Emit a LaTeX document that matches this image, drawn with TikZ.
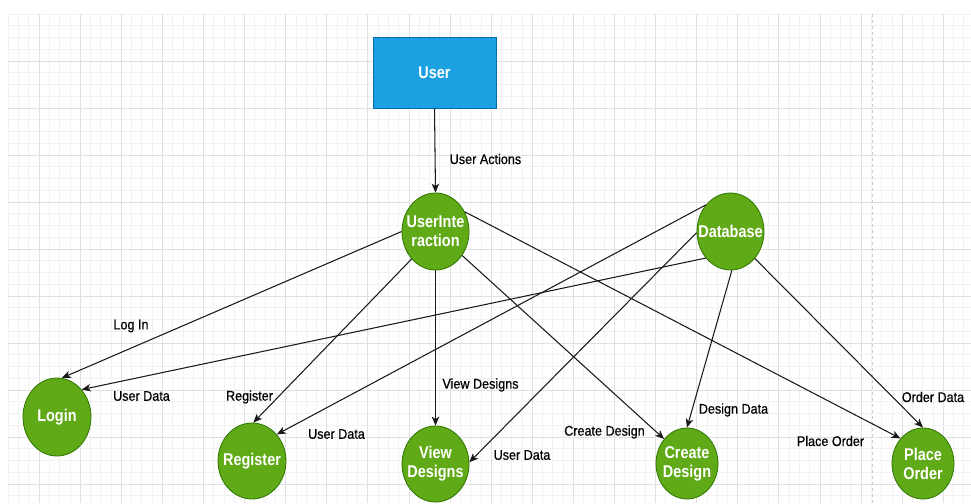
\documentclass[tikz,border=0pt]{standalone}
\usepackage{fontspec}
\setmainfont{Liberation Sans}
\newfontfamily\lblfont[FakeStretch=0.9,FakeBold=0.6]{Liberation Sans}
\newfontfamily\shapefont[FakeStretch=0.85]{Liberation Sans}
\usetikzlibrary{shapes.geometric,arrows.meta}
\definecolor{gridminor}{HTML}{F2F2F2}
\definecolor{gridmajor}{HTML}{E0E0E0}
\definecolor{userfill}{HTML}{1BA1E2}
\definecolor{userline}{HTML}{006EAF}
\definecolor{procfill}{HTML}{60A917}
\definecolor{procline}{HTML}{2D7600}
\definecolor{guide}{HTML}{CCCCCC}
\begin{document}
\begin{tikzpicture}[x=1pt,y=-1pt,
  actor/.style={rectangle, draw=userline, fill=userfill, line width=0.8pt,
    minimum width=123pt, minimum height=71pt, inner sep=0pt, text=white,
    font=\shapefont\fontsize{17}{19}\selectfont\bfseries},
  proc/.style={ellipse, draw=procline, fill=procfill, line width=0.8pt,
    inner sep=0pt},
  ptext/.style={inner sep=0pt, text=white, align=center,
    font=\shapefont\fontsize{17}{19}\selectfont\bfseries},
  lbl/.style={inner sep=0pt, text=black, font=\lblfont\fontsize{14}{16}\selectfont},
  flow/.style={draw=black!90, line width=1.05pt,
    -{Stealth[length=9pt,width=7.5pt,inset=2.5pt]}},
  minorline/.style={draw=gridminor, line width=0.7pt},
  majorline/.style={draw=gridmajor, line width=0.8pt}]

\useasboundingbox (0,0) rectangle (971,503);
\fill[white] (0,0) rectangle (971,503);

% background grid
\foreach \i in {0,...,93} {\draw[minorline] ({8.2+10.275*\i},14) -- ({8.2+10.275*\i},503);}
\foreach \j in {0,...,41} {\draw[minorline] (8.2,{14+11.75*\j}) -- (971,{14+11.75*\j});}
\foreach \i in {0,...,22} {\draw[majorline] ({39+41.1*\i},14) -- ({39+41.1*\i},503);}
\foreach \j in {1,...,10} {\draw[majorline] (8.2,{14+47*\j}) -- (971,{14+47*\j});}

% page break guide
\draw[guide, line width=0.8pt, dash pattern=on 3pt off 3pt] (872,14) -- (872,503);

% shapes
\node[actor] (user) at (434.5,72.5) {User};
\node[proc, minimum width=67pt, minimum height=77pt,
  label={[ptext]center:UserInte\\raction}] (ui) at (435.5,231.5) {};
\node[proc, minimum width=67pt, minimum height=77pt,
  label={[ptext]center:Database}] (db) at (730.5,231.5) {};
\node[proc, minimum width=68pt, minimum height=78pt,
  label={[ptext]center:Login}] (login) at (57,417) {};
\node[proc, minimum width=68pt, minimum height=76pt,
  label={[ptext]center:Register}] (reg) at (252,461) {};
\node[proc, minimum width=67pt, minimum height=76pt,
  label={[ptext]center:View\\Designs}] (view) at (435.5,464) {};
\node[proc, minimum width=62pt, minimum height=71pt,
  label={[ptext]center:Create\\Design}] (create) at (687,463.5) {};
\node[proc, minimum width=62pt, minimum height=71pt,
  label={[ptext]center:Place\\Order}] (place) at (923,463.5) {};

% connectors
\draw[flow] (user.south) -- (ui.north);
\draw[flow] (ui.180) -- (login.83);
\draw[flow] (db.227) -- (login.48);
\draw[flow] (ui.229) -- (reg.88);
\draw[flow] (db.133) -- (reg.47);
\draw[flow] (ui.south) -- (view.north);
\draw[flow] (db.182) -- (view.3);
\draw[flow] (ui.318) -- (create.133);
\draw[flow] (db.272) -- (create.north);
\draw[flow] (ui.34) -- (place.132);
\draw[flow] (db.312) -- (place.north);

% connector labels
\node[lbl] (tActions) at (485.5,159) {User Actions};
\node[lbl] (tLogIn) at (131,326) {Log In};
\node[lbl] (tDataLogin) at (141.5,396) {User Data};
\node[lbl] (tRegister) at (249.5,397) {Register};
\node[lbl] (tDataReg) at (336.5,434) {User Data};
\node[lbl] (tView) at (480.5,385) {View Designs};
\node[lbl] (tDataView) at (522,455) {User Data};
\node[lbl] (tCreate) at (604.5,432) {Create Design};
\node[lbl] (tDesignData) at (733.5,410) {Design Data};
\node[lbl] (tPlace) at (830.5,441) {Place Order};
\node[lbl] (tOrderData) at (933,397) {Order Data};
\end{tikzpicture}
\end{document}
